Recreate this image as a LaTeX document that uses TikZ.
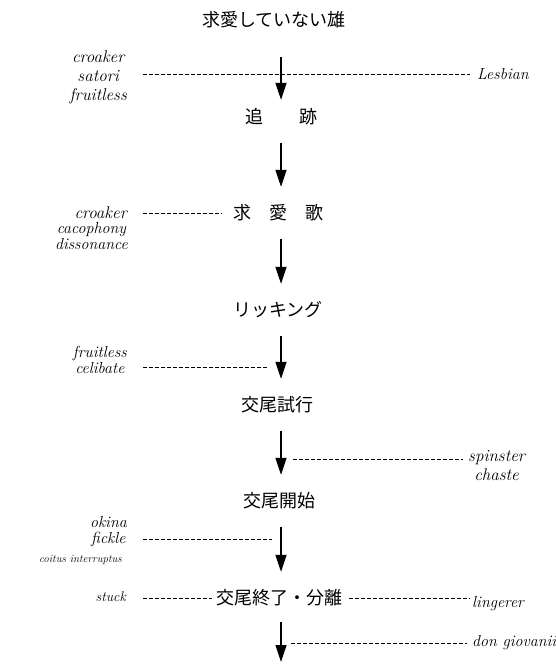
\documentclass[tikz,border=0pt]{standalone}
\usepackage{fontspec}
\newfontfamily\jp{Noto Sans CJK JP}
\usetikzlibrary{arrows.meta,positioning}

\begin{document}
\begin{tikzpicture}[x=1pt,y=-1pt]

  \tikzstyle{every node}=[inner sep=2pt]
  \tikzstyle{stage}=[font=\jp\fontsize{18}{20}\selectfont,inner sep=0pt,
    text height=15pt,text depth=3pt]
  \tikzstyle{lab}=[font=\itshape\fontsize{17}{19}\selectfont,align=center]
  \tikzstyle{labmd}=[font=\itshape\fontsize{16}{16}\selectfont,align=center]
  \tikzstyle{labsm}=[font=\itshape\fontsize{14}{15}\selectfont,align=center]
  \tikzstyle{labxs}=[font=\itshape\fontsize{11}{13}\selectfont,align=center]
  \tikzstyle{flow}=[-{Triangle[length=17pt,width=11pt]},line width=1.2pt,
    shorten <=17pt,shorten >=17pt]
  \tikzstyle{dashline}=[dash pattern=on 3.5pt off 2.5pt,line width=1pt]

  \useasboundingbox (0,0) rectangle (556,664);
  \coordinate (ax) at (281,0);

  % stages
  \node[stage] (s0) at (274,20)  {求愛していない雄};
  \node[stage] (s1) at (281,117) {追　　跡};
  \node[stage] (s2) at (278,213) {求　愛　歌};
  \node[stage] (s3) at (278,310) {リッキング};
  \node[stage] (s4) at (277,405) {交尾試行};
  \node[stage] (s5) at (279,501) {交尾開始};
  \node[stage] (s6) at (279,598) {交尾終了・分離};
  \coordinate (end) at (281,662);

  \draw[flow,shorten <=28pt,shorten >=8pt] (s0.south -| ax) -- (s1.north -| ax);
  \foreach \from/\to in {s1/s2,s2/s3,s3/s4,s4/s5,s5/s6}
    \draw[flow] (\from.south -| ax) -- (\to.north -| ax);
  \draw[flow,shorten >=0pt,shorten <=15pt] (s6.south -| ax) -- (end);

  % labels
  \node[lab,anchor=east] (l1) at (129,77) {croaker\\satori\\fruitless};
  \node[labmd,anchor=west] (l1r) at (475,74) {Lesbian};
  \draw[dashline,shorten <=14pt,shorten >=5pt] (l1r.west -| l1.east) -- (l1r.west);

  \node[lab,anchor=east] (l2) at (129,213) {croaker};
  \node[labmd,anchor=east] (l2b) at (130,236) {cacophony\\dissonance};
  \draw[dashline,shorten <=14pt,shorten >=11pt] (l2.east) -- (l2.east -| s2.west);

  \node[labmd,anchor=east] (l4) at (129,360) {fruitless\\celibate};
  \coordinate (c4) at (281,367);
  \draw[dashline,shorten <=14pt,shorten >=13pt] (c4 -| l4.east) -- (c4);

  \node[lab,anchor=west] (l5) at (466,466) {spinster\\chaste};
  \coordinate (c5) at (281,459);
  \draw[dashline,shorten <=12pt,shorten >=3pt] (c5) -- (c5 -| l5.west);

  \node[labmd,anchor=east] (l6) at (129,532) {okina\\fickle};
  \node[labxs,anchor=east] (l6b) at (124,560) {coitus interruptus};
  \coordinate (c6) at (281,539);
  \draw[dashline,shorten <=14pt,shorten >=9pt] (c6 -| l6.east) -- (c6);

  \node[labsm,anchor=east] (l7) at (128,597) {stuck};
  \node[labmd,anchor=base west] (l7r) at (470,607) {lingerer};
  \draw[dashline,shorten <=15pt,shorten >=4pt] (l7.east |- s6.west) -- (s6.west);
  \draw[dashline,shorten <=7pt] (s6.east) -- (s6.east -| l7r.west);

  \node[labmd,anchor=west] (l8) at (470,643) {don giovanii};
  \coordinate (c7) at (281,643);
  \draw[dashline,shorten <=10pt,shorten >=3pt] (c7) -- (l8.west);

\end{tikzpicture}
\end{document}
